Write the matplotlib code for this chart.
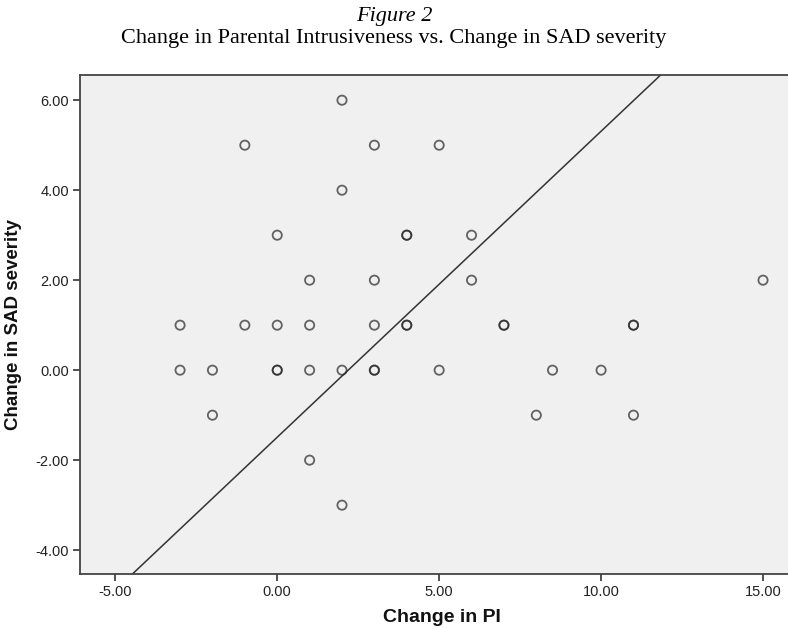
import matplotlib
matplotlib.use("Agg")
import matplotlib.pyplot as plt
import numpy as np

# Change scores per participant (duplicates are real repeated pairs)
pi_change = [-3, -3, -2, -2, -1, -1,
             0, 0, 0, 0,
             1, 1, 1, 1,
             2, 2, 2, 2,
             3, 3, 3, 3, 3,
             4, 4, 4, 4,
             5, 5, 6, 6, 7, 7,
             8, 8.5, 10, 11, 11, 11, 15]
sad_change = [1, 0, 0, -1, 5, 1,
              3, 1, 0, 0,
              2, 1, 0, -2,
              6, 4, 0, -3,
              5, 2, 1, 0, 0,
              3, 3, 1, 1,
              5, 0, 3, 2, 1, 1,
              -1, 0, 0, 1, 1, -1, 2]

# fit line drawn on the chart
fit_intercept = -1.49
fit_slope = 0.68

x_ticks = [-5, 0, 5, 10, 15]
y_ticks = [-4, -2, 0, 2, 4, 6]
x_lim = (-6.09, 15.82)
y_lim = (-4.53, 6.56)

fig = plt.figure(figsize=(7.88, 6.29), dpi=100)
ax = fig.add_axes([80 / 788, 1 - 574 / 629, 1 - 80 / 788 + 0.002, (574 - 75) / 629])
ax.set_facecolor("#f0f0f0")

ax.scatter(pi_change, sad_change, s=44, facecolors="none",
           edgecolors=(0.15, 0.15, 0.15, 0.7), linewidths=1.3, zorder=3)

xs = np.array(x_lim)
ax.plot(xs, fit_intercept + fit_slope * xs, color="#333333", lw=1.1, zorder=2)

ax.set_xlim(*x_lim)
ax.set_ylim(*y_lim)
ax.set_xticks(x_ticks)
ax.set_yticks(y_ticks)
ax.set_xticklabels([f"{v:.2f}" for v in x_ticks])
ax.set_yticklabels([f"{v:.2f}" for v in y_ticks])

for side in ["left", "bottom", "top"]:
    ax.spines[side].set_color("#444444")
    ax.spines[side].set_linewidth(1.3)
ax.spines["right"].set_visible(False)

ax.tick_params(direction="out", length=5, width=1.2, color="#333333",
               labelsize=10.5, labelcolor="#222222", pad=3)
for lab in ax.get_xticklabels() + ax.get_yticklabels():
    lab.set_family("Liberation Sans")

ax.set_xlabel("Change in PI", fontsize=14, fontweight="bold",
              family="Liberation Sans", color="#111111")
ax.set_ylabel("Change in SAD severity", fontsize=13.5, fontweight="bold",
              family="Liberation Sans", color="#111111")
ax.xaxis.set_label_coords((441 - 80) / (788 - 80), -(617 - 574) / (574 - 75))
ax.xaxis.label.set_va("center")
ax.yaxis.set_label_coords(-(80 - 22) / (788 - 80), 0.5)

fig.text(0.5, 1 - 16 / 629, "Figure 2", ha="center", va="center",
         family="Liberation Serif", style="italic", fontsize=16)
fig.text(0.5, 1 - 39 / 629, "Change in Parental Intrusiveness vs. Change in SAD severity",
         ha="center", va="center", family="Liberation Serif", fontsize=16)

fig.savefig("out.png", dpi=100)
